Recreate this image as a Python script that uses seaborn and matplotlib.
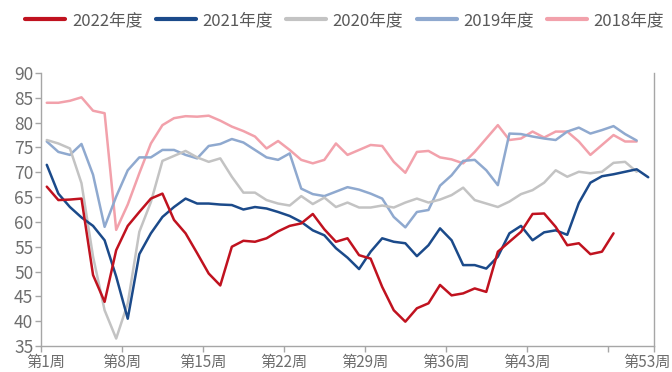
import numpy as np
import pandas as pd
import matplotlib
matplotlib.use("Agg")
import matplotlib.pyplot as plt
import matplotlib.transforms as mtransforms
from matplotlib.lines import Line2D
import seaborn as sns

# Weekly index values per season
series_names = ["2022年度", "2021年度", "2020年度", "2019年度", "2018年度"]
series_colors = ["#C0121F", "#1B4A8A", "#C3C3C3", "#8FA9CF", "#F2A1AB"]

v2022 = [67.1, 64.4, 64.5, 64.7, 49.3, 43.9, 54.3, 59.2, 62.0, 64.7,
         65.7, 60.4, 57.7, 53.7, 49.6, 47.2, 55.0, 56.2, 56.0, 56.7,
         58.1, 59.2, 59.7, 61.6, 58.5, 56.0, 56.7, 53.3, 52.6, 46.9,
         42.2, 39.9, 42.6, 43.6, 47.3, 45.2, 45.6, 46.6, 45.9, 54.0,
         56.0, 58.0, 61.6, 61.7, 59.0, 55.3, 55.7, 53.5, 54.0, 57.7]
v2021 = [71.5, 65.7, 63.0, 60.9, 59.2, 56.3, 49.0, 40.5, 53.5, 57.7,
         61.0, 63.0, 64.7, 63.7, 63.7, 63.5, 63.4, 62.5, 63.0, 62.7,
         62.0, 61.2, 60.0, 58.3, 57.3, 54.7, 52.8, 50.5, 54.0, 56.7,
         56.0, 55.7, 53.1, 55.3, 58.7, 56.3, 51.3, 51.3, 50.6, 53.0,
         57.7, 59.2, 56.3, 57.9, 58.3, 57.4, 63.8, 67.9, 69.2, 69.6,
         70.1, 70.6, 69.0]
v2020 = [76.5, 75.8, 74.8, 67.8, 53.0, 42.2, 36.5, 43.6, 58.0, 64.0,
         72.3, 73.3, 74.3, 73.0, 72.1, 72.8, 69.1, 65.9, 65.9, 64.4,
         63.7, 63.3, 65.2, 63.6, 64.9, 63.0, 63.9, 62.9, 62.9, 63.3,
         62.9, 63.9, 64.7, 63.9, 64.5, 65.4, 66.9, 64.4, 63.7, 63.0,
         64.1, 65.6, 66.4, 67.9, 70.4, 69.1, 70.1, 69.8, 70.1, 71.9,
         72.1, 70.1]
v2019 = [76.2, 74.1, 73.5, 75.7, 69.5, 59.0, 65.1, 70.4, 73.0, 73.0,
         74.5, 74.5, 73.5, 72.8, 75.3, 75.7, 76.7, 76.0, 74.5, 73.0,
         72.5, 73.8, 66.7, 65.6, 65.2, 66.1, 67.0, 66.5, 65.7, 64.7,
         61.0, 58.9, 62.0, 62.4, 67.3, 69.4, 72.3, 72.5, 70.4, 67.4,
         77.8, 77.7, 77.2, 76.8, 76.5, 78.2, 79.0, 77.8, 78.5, 79.3,
         77.7, 76.4]
v2018 = [84.0, 84.0, 84.4, 85.1, 82.4, 81.9, 58.4, 63.5, 69.8, 75.8,
         79.5, 80.9, 81.3, 81.2, 81.4, 80.4, 79.2, 78.3, 77.2, 74.8,
         76.3, 74.5, 72.5, 71.8, 72.5, 75.8, 73.5, 74.5, 75.5, 75.3,
         72.1, 69.9, 74.1, 74.3, 73.0, 72.6, 71.8, 74.1, 76.8, 79.5,
         76.5, 76.8, 78.2, 77.0, 78.2, 78.2, 76.2, 73.5, 75.5, 77.5,
         76.2, 76.2]

tick_weeks = [1, 8, 15, 22, 29, 36, 43, 50, 53]
tick_labels = ["第1周", "第8周", "第15周", "第22周", "第29周", "第36周", "第43周", "", "第53周"]
y_ticks = list(range(35, 91, 5))

frames = []
for name, vals in zip(series_names, [v2022, v2021, v2020, v2019, v2018]):
    frames.append(pd.DataFrame({"week": np.arange(1, len(vals) + 1),
                                "value": vals, "season": name}))
df = pd.concat(frames, ignore_index=True)

sns.set_theme(style="white")
plt.rcParams["font.family"] = ["Noto Sans CJK SC", "DejaVu Sans"]

axis_grey = "#A6A6A6"
tick_grey = "#6E6E6E"
legend_grey = "#595959"

fig = plt.figure(figsize=(6.72, 3.72), dpi=100)
ax = fig.add_axes([41 / 672, 1 - 346 / 372, (654 - 41) / 672, (346 - 73) / 372])

palette = dict(zip(series_names, series_colors))
draw_order = series_names[::-1]
sns.lineplot(data=df, x="week", y="value", hue="season", hue_order=draw_order,
             palette=palette, linewidth=1.8, ax=ax, legend=False,
             estimator=None, sort=True)
for ln in ax.lines:
    ln.set_solid_joinstyle("round")
    ln.set_solid_capstyle("round")

ax.set_xlim(0.5, 53.5)
ax.set_ylim(35, 90)
ax.set_yticks(y_ticks)
# category boundaries: each labelled tick sits at the left edge of its week
ax.set_xticks([w - 0.5 if w != 53 else 53.5 for w in tick_weeks])
ax.set_xticklabels(tick_labels)
ax.set_xlabel("")
ax.set_ylabel("")

for side in ["left", "bottom", "right"]:
    ax.spines[side].set_visible(True)
    ax.spines[side].set_color(axis_grey)
    ax.spines[side].set_linewidth(1.0)
ax.spines["top"].set_visible(False)

ax.tick_params(axis="y", which="major", direction="out", length=4, width=1,
               color=axis_grey, labelcolor=tick_grey, labelsize=12.5, pad=1.5,
               left=True, right=False)
ax.tick_params(axis="x", which="major", direction="out", length=4, width=1,
               color=axis_grey, labelcolor=tick_grey, labelsize=11, pad=1.5,
               bottom=True)

labels = ax.get_xticklabels()
labels[0].set_transform(labels[0].get_transform() +
                        mtransforms.ScaledTranslation(5 / 100, 0, fig.dpi_scale_trans))
labels[-1].set_transform(labels[-1].get_transform() +
                         mtransforms.ScaledTranslation(-7 / 100, 0, fig.dpi_scale_trans))

handles = [Line2D([0], [0], color=c, lw=3) for c in series_colors]
fig.legend(handles, series_names, loc="center", bbox_to_anchor=(0.513, 0.945),
           ncol=5, frameon=False, fontsize=12, handlelength=2.4,
           handletextpad=0.4, columnspacing=0.8, labelcolor=legend_grey)

fig.savefig("out.png", dpi=100)
